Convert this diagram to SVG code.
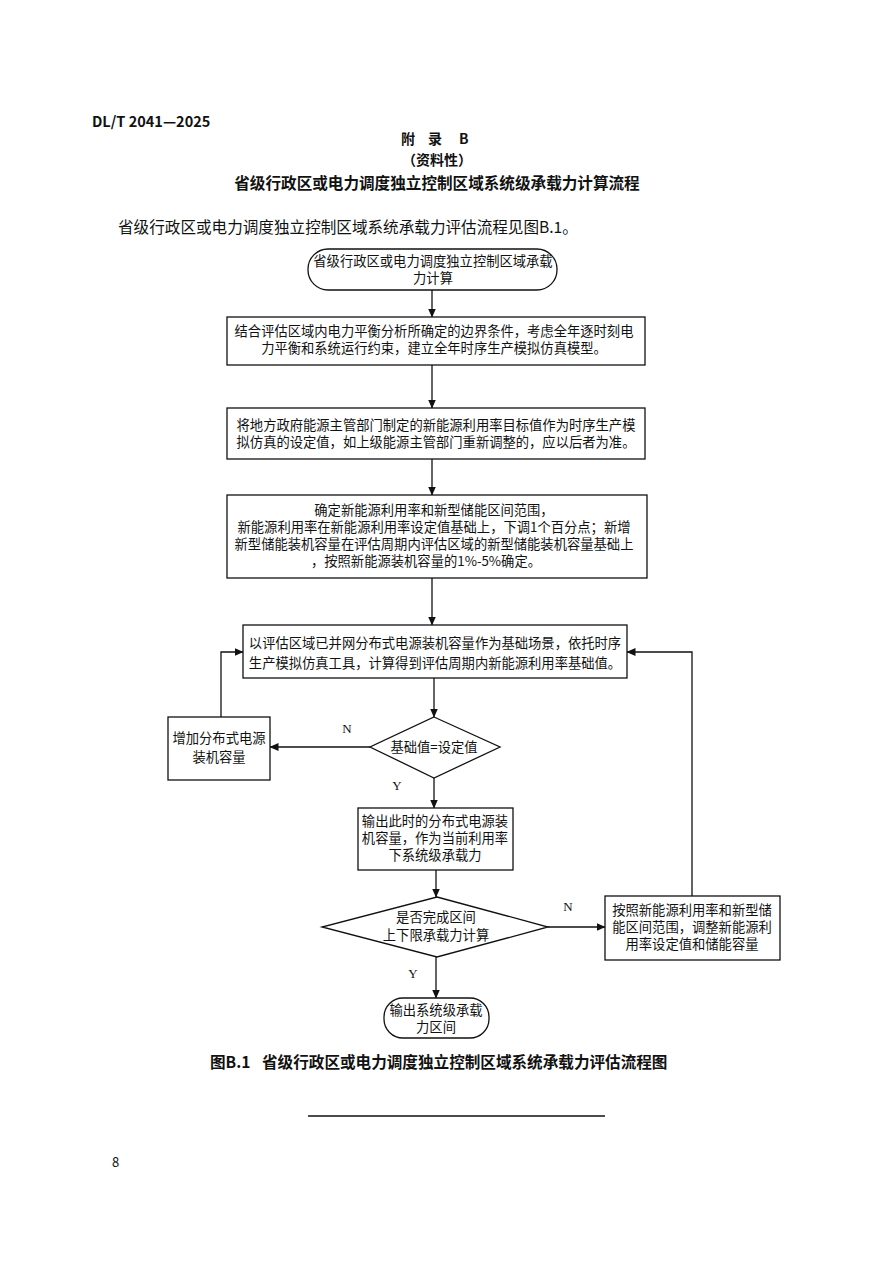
<svg xmlns="http://www.w3.org/2000/svg" width="892" height="1262" viewBox="0 0 892 1262">
<style>
.bg{fill:#ffffff}
.box{fill:#ffffff;stroke:#111;stroke-width:1.3}
.ln{fill:none;stroke:#111;stroke-width:1.3}
.t{font-family:"Noto Sans CJK SC","Noto Sans",sans-serif;font-size:13.3px;fill:#111;text-anchor:middle}
.lbl{font-family:"Liberation Serif",serif;font-size:13px;fill:#111;text-anchor:middle}
.h{font-family:"Noto Sans CJK SC","Noto Sans",sans-serif;fill:#111}
</style>
<defs>
<marker id="ah" markerWidth="9" markerHeight="8" refX="8.5" refY="4" orient="auto" markerUnits="userSpaceOnUse">
<path d="M0,0 L9,4 L0,8 Z" fill="#111"/>
</marker>
</defs>
<rect class="bg" x="0" y="0" width="892" height="1262"/>

<g id="header">
<text class="h" x="92" y="127" font-size="14.5" font-weight="bold" font-family="Liberation Sans, sans-serif">DL/T 2041—2025</text>
<text class="h" font-size="14" font-weight="bold" y="144"><tspan x="401">附</tspan><tspan x="428">录</tspan><tspan x="459">B</tspan></text>
<text class="h" x="437" y="165" font-size="14" font-weight="bold" text-anchor="middle">（资料性）</text>
<text class="h" x="437" y="189" font-size="15.6" font-weight="bold" text-anchor="middle">省级行政区或电力调度独立控制区域系统级承载力计算流程</text>
<text class="h" x="118" y="233" font-size="15.6">省级行政区或电力调度独立控制区域系统承载力评估流程见图B.1。</text>
</g>

<g id="connectors">
<line class="ln" x1="432" y1="290" x2="432" y2="317" marker-end="url(#ah)"/>
<line class="ln" x1="432" y1="365" x2="432" y2="408" marker-end="url(#ah)"/>
<line class="ln" x1="432" y1="459" x2="432" y2="495" marker-end="url(#ah)"/>
<line class="ln" x1="432" y1="578" x2="432" y2="625" marker-end="url(#ah)"/>
<line class="ln" x1="434" y1="678" x2="434" y2="717" marker-end="url(#ah)"/>
<line class="ln" x1="370" y1="747" x2="270" y2="747" marker-end="url(#ah)"/>
<polyline class="ln" points="221,717 221,652 243,652" marker-end="url(#ah)"/>
<line class="ln" x1="434" y1="778" x2="434" y2="808" marker-end="url(#ah)"/>
<line class="ln" x1="436" y1="870" x2="436" y2="897" marker-end="url(#ah)"/>
<line class="ln" x1="548" y1="927" x2="605" y2="927" marker-end="url(#ah)"/>
<polyline class="ln" points="692,896 692,652 627,652" marker-end="url(#ah)"/>
<line class="ln" x1="436" y1="957" x2="436" y2="998" marker-end="url(#ah)"/>
<text class="lbl" x="347" y="733">N</text>
<text class="lbl" x="397" y="790">Y</text>
<text class="lbl" x="568" y="911">N</text>
<text class="lbl" x="413" y="978">Y</text>
</g>

<g id="start">
<rect class="box" x="308" y="249" width="249" height="41" rx="20" ry="20"/>
<text class="t" x="433" y="266">省级行政区或电力调度独立控制区域承载</text>
<text class="t" x="433" y="283">力计算</text>
</g>

<g id="build-model">
<rect class="box" x="227" y="317" width="418" height="48"/>
<text class="t" x="434" y="336">结合评估区域内电力平衡分析所确定的边界条件，考虑全年逐时刻电</text>
<text class="t" x="434" y="353">力平衡和系统运行约束，建立全年时序生产模拟仿真模型。</text>
</g>

<g id="set-value">
<rect class="box" x="227" y="408" width="418" height="51"/>
<text class="t" x="436" y="430">将地方政府能源主管部门制定的新能源利用率目标值作为时序生产模</text>
<text class="t" x="436" y="447">拟仿真的设定值，如上级能源主管部门重新调整的，应以后者为准。</text>
</g>

<g id="range">
<rect class="box" x="227" y="495" width="420" height="83"/>
<text class="t" x="434" y="515">确定新能源利用率和新型储能区间范围，</text>
<text class="t" x="434" y="532">新能源利用率在新能源利用率设定值基础上，下调1个百分点；新增</text>
<text class="t" x="434" y="549">新型储能装机容量在评估周期内评估区域的新型储能装机容量基础上</text>
<text class="t" x="426" y="566">，按照新能源装机容量的1%-5%确定。</text>
</g>

<g id="base-scenario">
<rect class="box" x="243" y="625" width="384" height="53"/>
<text class="t" x="435" y="648">以评估区域已并网分布式电源装机容量作为基础场景，依托时序</text>
<text class="t" x="435" y="668">生产模拟仿真工具，计算得到评估周期内新能源利用率基础值。</text>
</g>

<g id="check-base">
<polygon class="box" points="434,717 500,747 434,778 370,747"/>
<text class="t" x="434" y="752">基础值=设定值</text>
</g>

<g id="increase">
<rect class="box" x="168" y="717" width="102" height="63"/>
<text class="t" x="219" y="743">增加分布式电源</text>
<text class="t" x="219" y="762">装机容量</text>
</g>

<g id="output-capacity">
<rect class="box" x="358" y="808" width="155" height="62"/>
<text class="t" x="435" y="826">输出此时的分布式电源装</text>
<text class="t" x="435" y="843">机容量，作为当前利用率</text>
<text class="t" x="435" y="860">下系统级承载力</text>
</g>

<g id="check-range">
<polygon class="box" points="437,897 548,927 437,957 322,927"/>
<text class="t" x="436" y="922">是否完成区间</text>
<text class="t" x="436" y="940">上下限承载力计算</text>
</g>

<g id="adjust">
<rect class="box" x="605" y="896" width="175" height="64"/>
<text class="t" x="692" y="915">按照新能源利用率和新型储</text>
<text class="t" x="692" y="932">能区间范围，调整新能源利</text>
<text class="t" x="692" y="949">用率设定值和储能容量</text>
</g>

<g id="end">
<rect class="box" x="384" y="998" width="105" height="40" rx="19" ry="19"/>
<text class="t" x="436" y="1015">输出系统级承载</text>
<text class="t" x="436" y="1032">力区间</text>
</g>

<g id="footer">
<text class="h" y="1068" font-size="15.6" font-weight="bold"><tspan x="210">图B.1</tspan><tspan x="262">省级行政区或电力调度独立控制区域系统承载力评估流程图</tspan></text>
<line x1="308" y1="1116" x2="605" y2="1116" stroke="#111" stroke-width="1.3"/>
<text class="h" x="112" y="1167" font-size="13" font-family="Liberation Sans, sans-serif">8</text>
</g>
</svg>
